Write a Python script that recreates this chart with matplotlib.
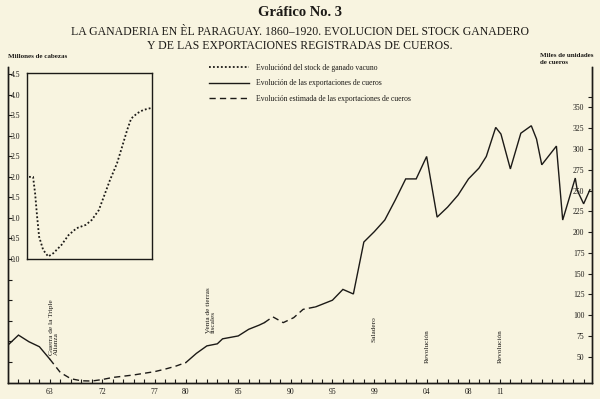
import matplotlib
matplotlib.use('Agg')
import matplotlib.pyplot as plt
from matplotlib.lines import Line2D

plt.rcParams['font.family'] = ['Liberation Serif', 'DejaVu Serif']

BG = '#f8f4e0'
INK = '#1c1a17'

# ---- data -------------------------------------------------------------
# x positions are in tick units along the time axis (one tick per year step)
x_tick_pos = [4, 9, 14, 17, 22, 27, 31, 35, 40, 44, 47]
x_tick_labels = ['63', '72', '77', '80', '85', '90', '95', '99', '04', '08', '11']

# exports of hides (thousands of units) - recorded (solid) and estimated (dashed)
exp_solid1_x = [0, 1, 2, 3, 4]
exp_solid1_y = [64, 76, 68, 62, 47]
exp_dash1_x = [4, 5, 6, 7, 8, 9, 10, 11, 12, 13, 14, 15, 16, 17]
exp_dash1_y = [47, 31, 23.5, 21, 20.7, 22.5, 25, 26.5, 28, 30, 32, 35, 38.5, 43]
exp_solid2_x = [17, 18, 19, 20, 20.5, 22, 23, 24, 24.5]
exp_solid2_y = [43, 54, 63, 65.5, 71.5, 75, 83, 88, 91]
exp_dash2_x = [24.5, 25.3, 26.3, 27.3, 28.2, 29.4]
exp_dash2_y = [91, 98, 91, 97, 107, 110]
exp_solid3_x = [29.4, 31, 32, 33, 34, 35, 36, 37, 38, 39, 40, 41, 42, 43, 44, 45,
                45.7, 46.6, 47.1, 48, 49, 50, 50.5, 51, 52.4, 53, 54.2, 54.4, 55, 55.6]
exp_solid3_y = [110, 118, 131, 125.5, 188, 200.5, 214.5, 238.5, 264, 264, 291, 218,
                230, 244.5, 264, 277, 291, 326, 318, 276, 319, 328, 312, 281, 303.5,
                214.5, 265, 250, 234, 251]

# cattle stock (millions of heads)
stock_years = [1860, 1862, 1863, 1864, 1865, 1867, 1869.5, 1872, 1876, 1879.5,
               1883.5, 1888, 1891, 1894.5, 1897, 1900, 1903.5, 1906, 1908.5,
               1910.5, 1913.5, 1916.5, 1920.5]
stock_vals = [2.0, 2.0, 1.6, 1.03, 0.54, 0.22, 0.06, 0.14, 0.34, 0.58, 0.75, 0.83,
              0.95, 1.19, 1.52, 1.92, 2.33, 2.73, 3.14, 3.42, 3.55, 3.63, 3.68]

events = ['Guerra de la Triple\nAlianza', 'Venta de tierras\nfiscales',
          'Saladero', 'Revolución', 'Revolución']
event_x = [4.4, 19.4, 34.95, 40.1, 47.05]
event_y = [52, 78.5, 68, 42.8, 42.8]

stock_ticks = [-2.5, -2.0, -1.5, -1.0, -0.5, 0.0, 0.5, 1.0, 1.5, 2.0, 2.5, 3.0, 3.5, 4.0, 4.5]
exp_ticks = [50, 75, 100, 125, 150, 175, 200, 225, 250, 275, 300, 325, 350]

# ---- figure -----------------------------------------------------------
W, H = 600, 399
fig = plt.figure(figsize=(6, 3.99), dpi=100, facecolor=BG)

def fx(px):
    return px / W

def fy(py):
    return 1 - py / H

left_px, right_px, bot_px, top_px = 8, 592, 382.7, 67
ax = fig.add_axes([fx(left_px), fy(bot_px), fx(right_px - left_px), (bot_px - top_px) / H])
ax.set_facecolor('none')
ax2 = ax.twinx()

# left (stock) scale
ax.set_ylim(-3.01, 4.67)
ax.set_yticks(stock_ticks)
ax.set_yticklabels(['' if t < 0 else f'{t:.1f}' for t in stock_ticks])
ax.tick_params(axis='y', direction='in', length=3, width=0.8, pad=-8.8,
               labelsize=5.5, colors=INK)

# x axis
ax.set_xlim(0, 55.8)
ax.set_xticks(range(1, 56), minor=True)
ax.set_xticks(x_tick_pos)
ax.set_xticklabels(x_tick_labels)
ax.tick_params(axis='x', which='both', direction='in', length=3, width=0.8,
               pad=4, labelsize=5.5, colors=INK)

for s in ['top']:
    ax.spines[s].set_visible(False)
    ax2.spines[s].set_visible(False)
for s in ['left', 'bottom', 'right']:
    ax.spines[s].set_color(INK)
    ax.spines[s].set_linewidth(1.0)
    ax2.spines[s].set_color(INK)
    ax2.spines[s].set_linewidth(1.0)

# right (exports) scale
ax2.set_ylim(18.7, 398.7)
ax2.set_yticks(exp_ticks)
ax2.set_yticklabels([str(t) for t in exp_ticks])
ax2.set_yticks([362], minor=True)
ax2.tick_params(axis='y', which='both', direction='in', length=3, width=0.8,
                pad=-5.5, labelsize=5.5, colors=INK)
for t in ax2.get_yticklabels():
    t.set_horizontalalignment('right')

lw = 1.0
solid = dict(color=INK, lw=lw, solid_joinstyle='miter')
dashed = dict(color=INK, lw=lw, linestyle=(0, (4.5, 3.0)))
ax2.plot(exp_solid1_x, exp_solid1_y, **solid)
ax2.plot(exp_dash1_x, exp_dash1_y, **dashed)
ax2.plot(exp_solid2_x, exp_solid2_y, **solid)
ax2.plot(exp_dash2_x, exp_dash2_y, **dashed)
ax2.plot(exp_solid3_x, exp_solid3_y, **solid)

for txt, x, y in zip(events, event_x, event_y):
    ax2.text(x, y, txt, rotation=90, ha='center', va='bottom',
             multialignment='left', fontsize=5.2, color=INK, linespacing=1.1)

# inset with cattle stock
ins = fig.add_axes([fx(27), fy(259), fx(125), 186 / H])
ins.set_facecolor('none')
ins.set_xlim(1859, 1920.8)
ins.set_ylim(0, 4.53)
ins.set_xticks([])
ins.set_yticks([])
for s in ins.spines.values():
    s.set_color(INK)
    s.set_linewidth(1.0)
ins.plot(stock_years, stock_vals, color=INK, lw=1.3, linestyle=(0, (1, 1.2)),
         clip_on=False)

# legend
handles = [Line2D([], [], color=INK, lw=1.3, linestyle=(0, (1, 1.2))),
           Line2D([], [], color=INK, lw=1.0),
           Line2D([], [], color=INK, lw=1.0, linestyle=(0, (4.5, 3.0)))]
labels = ['Evoluciónd del stock de ganado vacuno',
          'Evolución de las exportaciones de cueros',
          'Evolución estimada de las exportaciones de cueros']
leg = fig.legend(handles, labels, loc='upper left',
                 bbox_to_anchor=(fx(209), fy(64)), frameon=False,
                 fontsize=5.5, handlelength=5.3, handletextpad=0.8,
                 labelspacing=0.95, borderaxespad=0, borderpad=0)
for t in leg.get_texts():
    t.set_color(INK)

# titles
fig.text(0.5, fy(12), 'Gráfico No. 3', ha='center', va='center',
         fontsize=10.5, fontweight='bold', color=INK)
fig.text(0.5, fy(32), 'LA GANADERIA EN ÈL PARAGUAY. 1860–1920. EVOLUCION DEL STOCK GANADERO',
         ha='center', va='center', fontsize=8.5, color=INK)
fig.text(0.5, fy(46), 'Y DE LAS EXPORTACIONES REGISTRADAS DE CUEROS.',
         ha='center', va='center', fontsize=8.5, color=INK)
fig.text(fx(8), fy(57), 'Millones de cabezas', ha='left', va='center',
         fontsize=5, fontweight='bold', color=INK)
fig.text(fx(540), fy(59), 'Miles de unidades\nde cueros', ha='left', va='center',
         fontsize=5, fontweight='bold', color=INK, linespacing=1.3)

fig.savefig('out.png', dpi=100, facecolor=BG)
